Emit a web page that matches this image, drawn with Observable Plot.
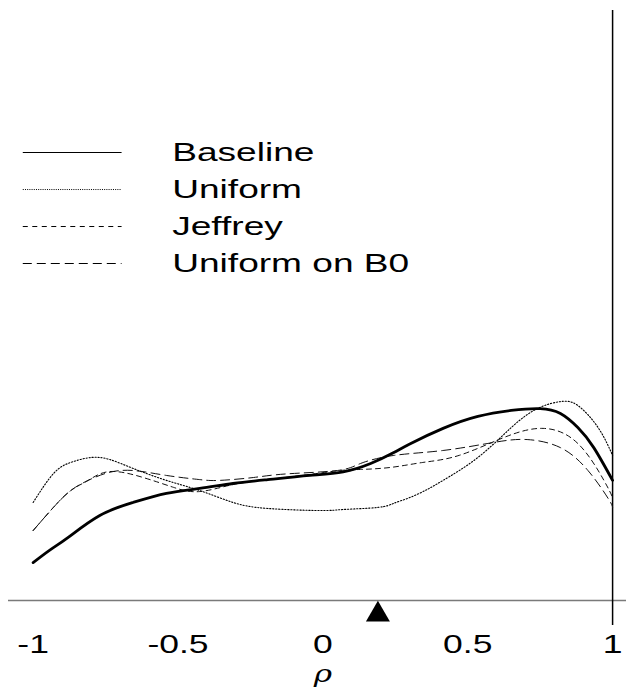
<!DOCTYPE html>
<html><head><meta charset="utf-8">
<script src="https://cdn.jsdelivr.net/npm/d3@7"></script>
<script src="https://cdn.jsdelivr.net/npm/@observablehq/plot@0.6"></script>
<style>body{margin:0;background:#fff;}#chart{width:626px;height:689px;}</style>
</head><body><div id="chart"></div>
<script>
// ---- data ----
const baselineRho = [-1, -0.94, -0.88, -0.77, -0.655, -0.54, -0.425, -0.31, -0.19, -0.045, 0.07, 0.165, 0.245, 0.30, 0.415, 0.535, 0.65, 0.75, 0.82, 0.88, 0.935, 1.0];
const baselineDens = [0.146, 0.196, 0.242, 0.327, 0.377, 0.412, 0.431, 0.45, 0.465, 0.481, 0.495, 0.527, 0.569, 0.602, 0.662, 0.708, 0.731, 0.738, 0.719, 0.665, 0.588, 0.462];

const uniformRho = [-1, -0.93, -0.87, -0.80, -0.735, -0.655, -0.54, -0.425, -0.31, -0.19, -0.01, 0.07, 0.19, 0.245, 0.30, 0.36, 0.415, 0.535, 0.65, 0.74, 0.82, 0.88, 0.95, 1.0];
const uniformDens = [0.377, 0.488, 0.531, 0.55, 0.542, 0.508, 0.462, 0.423, 0.377, 0.354, 0.346, 0.350, 0.358, 0.374, 0.396, 0.427, 0.462, 0.55, 0.665, 0.738, 0.765, 0.75, 0.665, 0.558];

const jeffreyRho = [-1, -0.93, -0.87, -0.81, -0.735, -0.62, -0.515, -0.425, -0.31, -0.19, -0.045, 0.06, 0.13, 0.235, 0.345, 0.47, 0.625, 0.76, 0.88, 0.97, 1.0];
const jeffreyDens = [0.269, 0.358, 0.423, 0.462, 0.496, 0.473, 0.435, 0.419, 0.446, 0.465, 0.485, 0.5, 0.504, 0.512, 0.531, 0.558, 0.627, 0.662, 0.604, 0.462, 0.396];

const b0Rho = [-1, -0.93, -0.87, -0.81, -0.74, -0.655, -0.54, -0.425, -0.355, -0.24, -0.125, 0.05, 0.13, 0.245, 0.415, 0.59, 0.705, 0.82, 0.915, 0.985, 1.0];
const b0Dens = [0.269, 0.358, 0.423, 0.462, 0.492, 0.5, 0.481, 0.465, 0.462, 0.473, 0.487, 0.5, 0.527, 0.558, 0.577, 0.608, 0.619, 0.588, 0.5, 0.392, 0.358];

const observedRho = [0.19];
const xTickValues = [-1, -0.5, 0, 0.5, 1];
const xTickLabels = ["-1", "-0.5", "0", "0.5", "1"];
const seriesNames = ["Baseline", "Uniform", "Jeffrey", "Uniform on B0"];

// ---- build tables ----
const rows = (rho, dens) => rho.map((r, i) => ({rho: r, density: dens[i]}));
const baseline = rows(baselineRho, baselineDens);
const uniform = rows(uniformRho, uniformDens);
const jeffrey = rows(jeffreyRho, jeffreyDens);
const b0 = rows(b0Rho, b0Dens);
const ticks = xTickValues.map((v, i) => ({rho: v, label: xTickLabels[i]}));

// legend layout (in data units)
const legendLineX1 = -1.034, legendLineX2 = -0.693, legendTextX = -0.52;
const legendTop = 1.723, legendStep = 0.1423;
const legend = seriesNames.map((s, i) => ({name: s, y: legendTop - i * legendStep}));

const styles = [
  {strokeWidth: 1.2, strokeDasharray: null},
  {strokeWidth: 1, strokeDasharray: "1,1.2"},
  {strokeWidth: 1, strokeDasharray: "5,4.5"},
  {strokeWidth: 1, strokeDasharray: "9,5"}
];

const font = "Liberation Sans, Arial, Helvetica, sans-serif";

const chart = Plot.plot({
  width: 626,
  height: 689,
  marginLeft: 8,
  marginRight: 0,
  marginTop: 10,
  marginBottom: 89,
  style: {fontFamily: font, background: "#fff"},
  x: {domain: [-1.085, 1.048], axis: null},
  y: {domain: [0, 590 / 260], axis: null},
  marks: [
    Plot.ruleY([0], {stroke: "#7a7a7a", strokeWidth: 1.6}),
    Plot.ruleX([1], {stroke: "#000", strokeWidth: 1.5, insetBottom: -25}),
    Plot.line(uniform, {x: "rho", y: "density", curve: "natural", stroke: "#000", strokeWidth: 1.1, strokeDasharray: "1.2,1.8"}),
    Plot.line(jeffrey, {x: "rho", y: "density", curve: "natural", stroke: "#111", strokeWidth: 1, strokeDasharray: "5,4"}),
    Plot.line(b0, {x: "rho", y: "density", curve: "natural", stroke: "#111", strokeWidth: 1, strokeDasharray: "9,5"}),
    Plot.line(baseline, {x: "rho", y: "density", curve: "natural", stroke: "#000", strokeWidth: 2.8}),
    Plot.dot(observedRho, {x: d => d, y: 0, symbol: "triangle", r: 8.9, fill: "#000", stroke: "none", dy: 14}),
    Plot.text(ticks, {x: "rho", y: 0, text: "label", dy: 44, fontSize: 25, fill: "#000", ariaDescription: "xticks"}),
    Plot.text(["ρ"], {x: 0, y: 0, text: d => d, dy: 74, fontSize: 24, fontStyle: "italic", fill: "#000", fontFamily: "DejaVu Serif, serif", ariaDescription: "xlabel"}),
    ...legend.map((d, i) => Plot.ruleY([d], {x1: legendLineX1, x2: legendLineX2, y: "y", stroke: "#000", ...styles[i]})),
    Plot.text(legend, {x: legendTextX, y: "y", text: "name", textAnchor: "start", fontSize: 26.5, fill: "#000", ariaDescription: "legendtext"})
  ]
});

// horizontally stretch text like the reference
function stretch(sel, s) {
  chart.querySelectorAll(sel).forEach(t => {
    let tr = t.getAttribute("transform");
    if (!tr) {
      const x = +t.getAttribute("x") || 0, y = +t.getAttribute("y") || 0;
      t.removeAttribute("x"); t.removeAttribute("y");
      tr = `translate(${x},${y})`;
    }
    t.setAttribute("transform", tr + ` scale(${s},1)`);
  });
}
document.getElementById("chart").appendChild(chart);
stretch('g[aria-description="legendtext"] text', 1.4);
stretch('g[aria-description="xticks"] text', 1.42);
stretch('g[aria-description="xlabel"] text', 1.3);
</script>
</body></html>
